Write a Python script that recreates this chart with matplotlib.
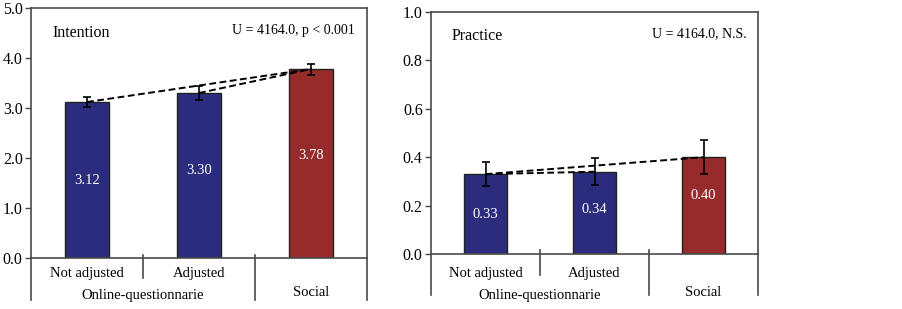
import matplotlib
matplotlib.use("Agg")
import matplotlib.pyplot as plt
import matplotlib.transforms as mtransforms

plt.rcParams['font.family'] = ['Liberation Serif', 'DejaVu Serif']

categories = ["Not adjusted", "Adjusted", "Social"]
group_label = "Online-questionnarie"

intention_values = [3.12, 3.30, 3.78]
intention_errors = [0.10, 0.14, 0.11]
practice_values = [0.33, 0.34, 0.40]
practice_errors = [0.05, 0.055, 0.07]

intention_lines = [([0, 2], [3.12, 3.78]), ([1, 2], [3.30, 3.78])]
practice_lines = [([0, 2], [0.33, 0.40]), ([0, 1], [0.33, 0.34])]

bar_colors = ["#2B2C7E", "#2B2C7E", "#972A2A"]
spine_color = "#4a4a4a"

fig = plt.figure(figsize=(9.02, 3.09), dpi=100)
fs = 10.5

def fmt2(v):
    return "{:.2f}".format(v)

def draw_panel(rect, values, errors, lines, ylim, yticks, fmt, title, stat,
               lab_y, grp_y, soc_y, sep1_bot, sep2_bot, sep_top, label_pos):
    ax = fig.add_axes(rect)
    x = [0.5, 1.5, 2.5]
    ax.bar(x, values, width=0.4, color=bar_colors, edgecolor="#222222", linewidth=1.0, zorder=2)
    ax.errorbar(x, values, yerr=errors, fmt='none', ecolor='black', elinewidth=1.2,
                capsize=3, capthick=1.2, zorder=4)
    for xs, ys in lines:
        ax.plot([x[i] for i in xs], ys, color='black', lw=1.4, ls=(0, (3.5, 1.8)), zorder=5)
    ax.set_xlim(0, 3)
    ax.set_ylim(*ylim)
    ax.set_yticks(yticks)
    ax.set_yticklabels([fmt.format(t) for t in yticks], fontsize=11.5)
    ax.set_xticks([])
    ax.tick_params(axis='y', direction='out', length=4, width=1, color=spine_color, pad=2)
    for s in ax.spines.values():
        s.set_color(spine_color)
        s.set_linewidth(1.2)
    for xi, v, lp in zip(x, values, label_pos):
        ax.text(xi, v * lp, fmt2(v), color='white', ha='center', va='center', fontsize=fs, zorder=6)
    tr = mtransforms.blended_transform_factory(ax.transData, ax.transAxes)
    ax.text(0.5, lab_y, categories[0], transform=tr, ha='center', va='center', fontsize=fs)
    ax.text(1.5, lab_y, categories[1], transform=tr, ha='center', va='center', fontsize=fs)
    ax.text(1.0, grp_y, group_label, transform=tr, ha='center', va='center', fontsize=fs)
    ax.text(2.5, soc_y, categories[2], transform=tr, ha='center', va='center', fontsize=fs)
    ax.plot([1, 1], [sep_top, sep1_bot], transform=tr, color=spine_color, lw=1.2, clip_on=False)
    ax.plot([2, 2], [sep_top, sep2_bot], transform=tr, color=spine_color, lw=1.2, clip_on=False)
    ax.plot([0, 0], [0, sep2_bot], transform=ax.transAxes, color=spine_color, lw=1.2, clip_on=False)
    ax.plot([1, 1], [0, sep2_bot], transform=ax.transAxes, color=spine_color, lw=1.2, clip_on=False)
    ax.text(0.063, 0.90, title, transform=ax.transAxes, ha='left', va='center', fontsize=11.5)
    ax.text(0.965, 0.91, stat, transform=ax.transAxes, ha='right', va='center', fontsize=10)
    return ax

draw_panel([31/902, 51/309, 336/902, 250/309], intention_values, intention_errors, intention_lines,
           (0, 5), [0, 1, 2, 3, 4, 5], "{:.1f}", "Intention", "U = 4164.0, p < 0.001",
           -0.06, -0.148, -0.14, -0.08, -0.168, 0.012, [0.5, 0.53, 0.54])

draw_panel([431/902, 55/309, 327/902, 242/309], practice_values, practice_errors, practice_lines,
           (0, 1), [0, 0.2, 0.4, 0.6, 0.8, 1.0], "{:.1f}", "Practice", "U = 4164.0, N.S.",
           -0.079, -0.17, -0.16, -0.087, -0.17, 0.017, [0.49, 0.54, 0.6])

fig.savefig("out.png", dpi=100)
